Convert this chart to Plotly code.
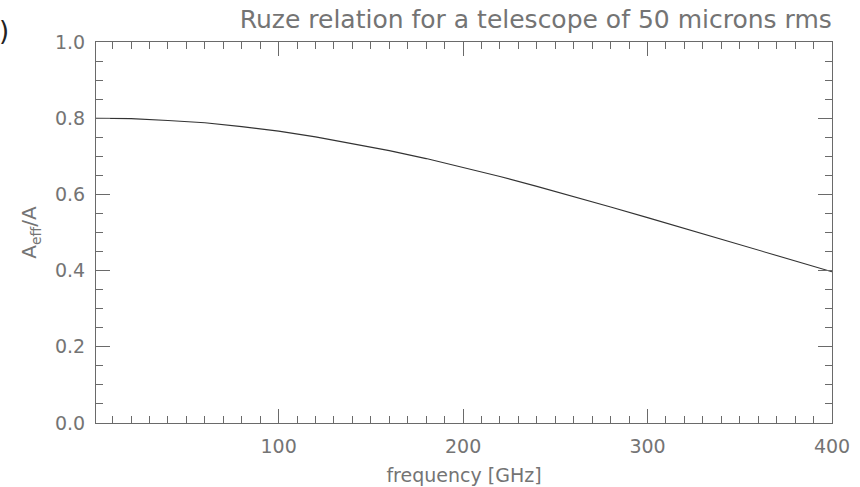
import plotly.graph_objects as go

# Data
freq_ghz = [1, 20, 40, 60, 80, 100, 120, 140, 160, 180, 200, 220, 240,
            260, 280, 300, 320, 340, 360, 380, 400]
aeff_over_a = [0.800, 0.799, 0.794, 0.788, 0.778, 0.766, 0.751, 0.734,
               0.715, 0.694, 0.671, 0.647, 0.621, 0.595, 0.567, 0.539,
               0.511, 0.482, 0.453, 0.425, 0.397]
x_ticks = [100, 200, 300, 400]
y_ticks = [0.0, 0.2, 0.4, 0.6, 0.8, 1.0]

title_text = "Ruze relation for a telescope of 50 microns rms"
x_title = "frequency [GHz]"
y_title = "A<sub>eff</sub>/A"

axis_col = "#6a6a6a"
text_col = "#747474"
font_fam = "DejaVu Sans"

fig = go.Figure()
fig.add_trace(go.Scatter(x=freq_ghz, y=aeff_over_a, mode="lines",
                         line=dict(color="#333333", width=1.1),
                         showlegend=False, hoverinfo="skip"))

fig.update_layout(
    width=860, height=487,
    margin=dict(l=96, r=28, t=42, b=64),
    paper_bgcolor="white", plot_bgcolor="white",
    font=dict(family=font_fam, color=text_col, size=19),
    title=dict(text=title_text, x=0.623, xanchor="center", y=0.96,
               yanchor="middle", font=dict(size=25, color=text_col)),
)
fig.update_xaxes(
    automargin=False,
    range=[1, 400], tickvals=x_ticks, ticktext=[str(v) for v in x_ticks],
    ticks="inside", ticklen=14, tickwidth=1, tickcolor=axis_col,
    showline=True, linecolor=axis_col, linewidth=1, mirror="ticks",
    showgrid=False, zeroline=False,
    minor=dict(dtick=10, tick0=0, ticks="inside", ticklen=7, tickcolor=axis_col, showgrid=False),
    tickfont=dict(size=19, color=text_col), ticklabelstandoff=6,
    title=dict(text=x_title, font=dict(size=19, color=text_col), standoff=12),
)
fig.update_yaxes(
    automargin=False,
    range=[0, 1.0], tickvals=y_ticks, ticktext=[f"{v:.1f}" for v in y_ticks],
    ticks="inside", ticklen=14, tickwidth=1, tickcolor=axis_col,
    showline=True, linecolor=axis_col, linewidth=1, mirror="ticks",
    showgrid=False, zeroline=False,
    minor=dict(dtick=0.05, tick0=0, ticks="inside", ticklen=7, tickcolor=axis_col, showgrid=False),
    tickfont=dict(size=19, color=text_col), ticklabelstandoff=6,
    title=dict(text=y_title, font=dict(size=20, color=text_col), standoff=12),
)
fig.add_annotation(text=")", xref="paper", yref="paper", x=-0.125, y=1.03,
                   xanchor="center", yanchor="middle", showarrow=False,
                   font=dict(size=26, color="#222222"))

fig.write_html("out.html")
